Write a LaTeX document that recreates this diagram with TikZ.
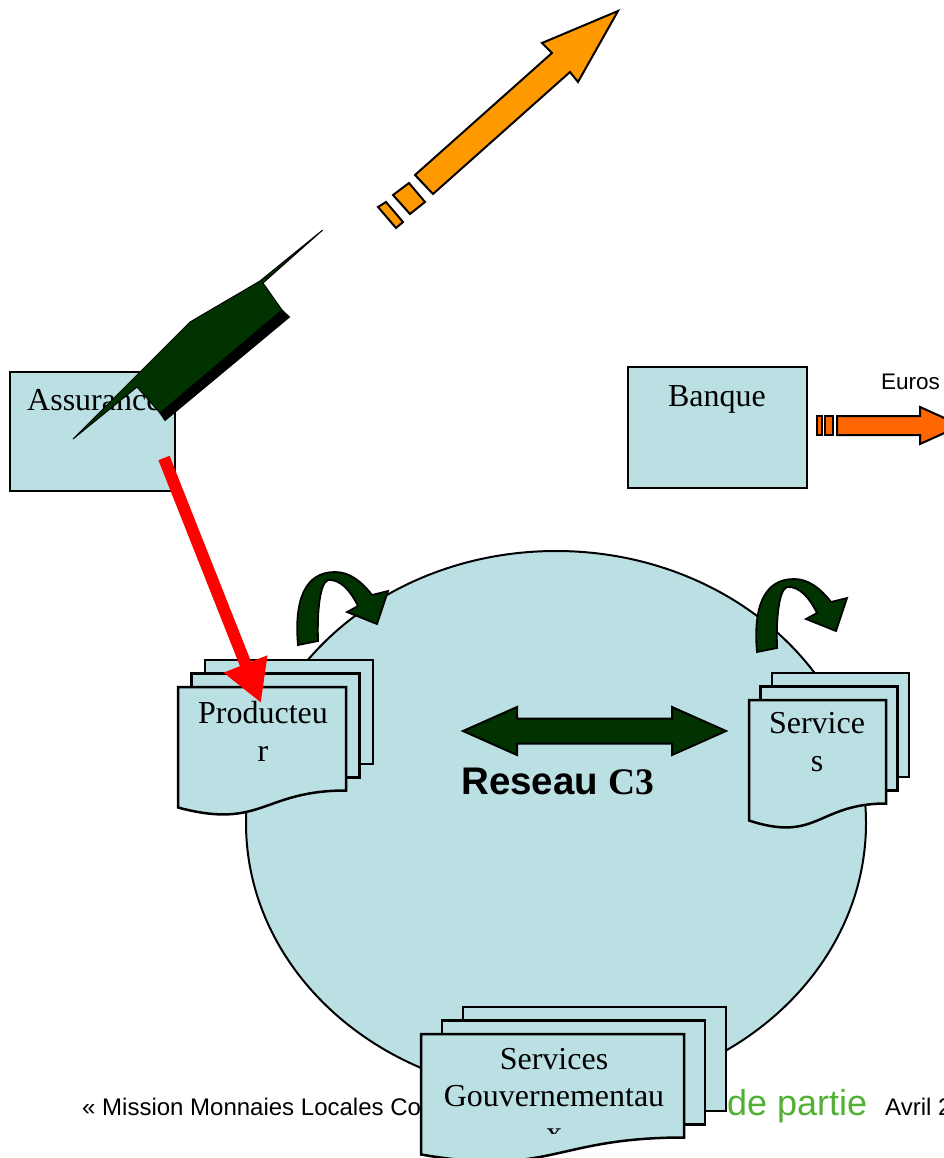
\documentclass[tikz,border=0pt]{standalone}
\usepackage{fontspec}
\setmainfont{Liberation Serif}
\newfontfamily\arialfont{Liberation Sans}
\usetikzlibrary{shapes.geometric,arrows.meta}
\definecolor{lblue}{HTML}{BBE0E3}
\definecolor{dkgreen}{HTML}{003300}
\definecolor{orangeA}{HTML}{FF9900}
\definecolor{orangeB}{HTML}{FF6600}
\definecolor{footgreen}{HTML}{52B135}
\tikzset{
  box/.style={draw=black, line width=2.3pt, fill=lblue, inner sep=0pt},
  docline/.style={draw=black, line width=2.5pt, fill=lblue, line join=miter},
  shp/.style={draw=black, line width=2pt, line join=miter},
  doctext/.style={font=\fontsize{32}{38}\selectfont, align=center, inner sep=0pt, anchor=north},
  bigtext/.style={font=\fontsize{32}{38}\selectfont, inner sep=0pt},
  foottext/.style={font=\arialfont\fontsize{24}{28}\selectfont, inner sep=0pt, anchor=base west},
  pics/docstack/.style 2 args={code={
    \draw[docline] (2*#2,-27) rectangle ++(#1,104);
    \draw[docline] (#2,-13.5) rectangle ++(#1,104);
    \draw[docline] (0,0) -- (#1,0) -- (#1,103.5) .. controls (#1/2,103.5) and (#1/2,143) .. (0,120.5) -- cycle;
  }},
  pics/curlarrow/.style={code={
    \draw[shp, line width=1.8pt, fill=dkgreen] (0,0) .. controls (-4,-45) and (7,-73) .. (37,-73)
      .. controls (52,-73) and (64,-63) .. (74,-50) -- (90,-54) -- (79,-21) -- (49,-33) -- (60,-39)
      .. controls (52,-55) and (42,-66) .. (30,-65) .. controls (22,-62) and (19,-35) .. (20,-4) -- cycle;
  }}
}
\begin{document}
\begin{tikzpicture}[x=1pt, y=-1pt]
\useasboundingbox (0,0) rectangle (943,1158);

% network circle
\node[draw=black, line width=2pt, fill=lblue, ellipse, minimum width=620pt, minimum height=544pt, inner sep=0pt] (net) at (556,823) {};

% curled arrows
\pic (curlL) at (298,645) {curlarrow};
\pic (curlR) at (757,652) {curlarrow};

% footer text
\node[foottext] (foot1) at (82,1115) {« Mission Monnaies Locales Co};
\node[foottext, font=\arialfont\fontsize{36}{40}\selectfont, text=footgreen] (foot2) at (727,1115) {de partie};
\node[foottext] (foot3) at (885,1115) {Avril 2};

% document stacks
\pic (prodS) at (178,687) {docstack={168}{13.5}};
\node[doctext] (prodT) at (263,701) {Producteu\\r};

\pic (servS) at (749,700) {docstack={137}{11.5}};
\node[doctext] (servT) at (817,712.5) {Service\\s};

\pic (gouvS) at (421,1034) {docstack={263}{21}};
\begin{scope}
  \clip (421,1034) rectangle (684,1133.5);
  \node[doctext, font=\fontsize{32}{37}\selectfont] (gouvT) at (554,1048.5) {Services\\Gouvernementau\\x};
\end{scope}

% central double arrow
\coordinate (dl) at (463,731);
\coordinate (dr) at (726,731);
\draw[shp, fill=dkgreen] (dl) -- (517,707) -- (517,718.5) -- (672,718.5) -- (672,707) -- (dr)
  -- (672,755) -- (672,743.5) -- (517,743.5) -- (517,755) -- cycle;
\node[anchor=base west, inner sep=0pt] (reseauT) at (461,794)
  {{\arialfont\bfseries\fontsize{38.5}{44}\selectfont Reseau }{\bfseries\fontsize{37.5}{44}\selectfont C3}};

% Assurance
\node[box, minimum width=165pt, minimum height=119pt] (assur) at (92.5,431.5) {};
\node[bigtext, anchor=base west] (assurT) at (27,410) {Assurance};

% dark green diagonal arrow
\draw[shp, line width=1pt, fill=black] (282,310) -- (289.5,317) -- (165,420.5) -- (160,413) -- cycle;
\draw[shp, line width=1pt, fill=dkgreen] (322.7,230) -- (263,283) -- (282,310) -- (160,413) -- (137,387)
  -- (73,439) -- (190,322) -- (260,281) -- cycle;

% red arrow
\coordinate (redS) at (164,458);
\coordinate (redE) at (261,703);
\draw[red, line width=12pt, -{Triangle[length=42pt,width=44pt]}] (redS) -- (redE);

% Banque
\node[box, minimum width=179pt, minimum height=121pt] (banque) at (717.5,427.5) {};
\node[bigtext, anchor=base] (banqueT) at (717,406) {Banque};

% Euros arrow
\draw[shp, fill=orangeB] (817,416) rectangle (822,435);
\draw[shp, fill=orangeB] (825,416) rectangle (833,435);
\coordinate (eurS) at (837,425.5);
\coordinate (eurE) at (961,425.5);
\draw[shp, fill=orangeB] (837,416) -- (920,416) -- (920,407) -- (eurE) -- (920,444) -- (920,435) -- (837,435) -- cycle;
\node[font=\arialfont\fontsize{22.5}{26}\selectfont, anchor=base west, inner sep=0pt] (euros) at (881,389) {Euros};

% orange diagonal arrow
\coordinate (orTip) at (618,11);
\draw[shp, fill=orangeA] (orTip) -- (578,82) -- (570,72) -- (433,194) -- (415,175) -- (552,53) -- (542,43) -- cycle;
\draw[shp, fill=orangeA] (393,195) -- (409,183) -- (425,202) -- (410,214) -- cycle;
\draw[shp, fill=orangeA] (378,207) -- (386,202) -- (403,222) -- (396,228) -- cycle;

\end{tikzpicture}
\end{document}
